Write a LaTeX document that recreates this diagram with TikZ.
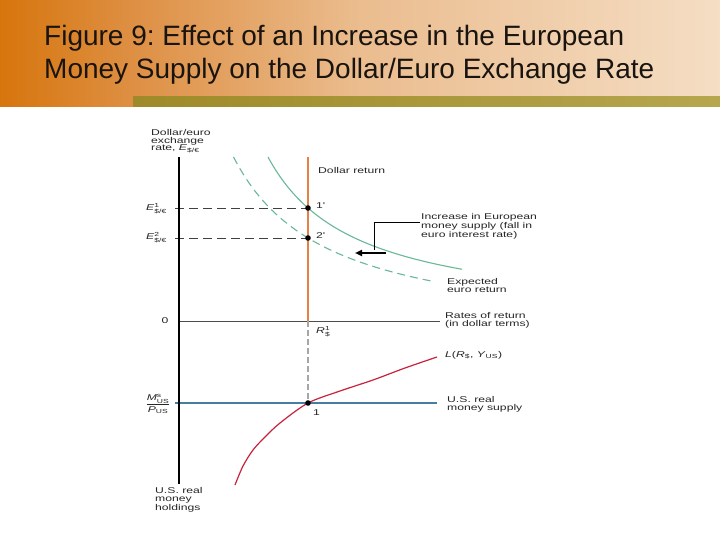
\documentclass[tikz,border=0pt]{standalone}
\usepackage{fontspec}
\usepackage{amsmath}
\setmainfont{Liberation Sans}
\newfontfamily\lbl[FakeStretch=1.45]{Liberation Sans}
\usetikzlibrary{arrows.meta}
\frenchspacing
\definecolor{olL}{RGB}{158,138,40}
\definecolor{olR}{RGB}{182,166,78}
\definecolor{grn}{RGB}{105,185,150}
\definecolor{orl}{RGB}{232,128,70}
\definecolor{blu}{RGB}{70,125,160}
\definecolor{rdc}{RGB}{200,35,60}
\definecolor{ttl}{RGB}{25,20,15}
\pgfdeclarehorizontalshading{hdr}{100bp}{rgb(0bp)=(0.84,0.46,0.05); rgb(25bp)=(0.84,0.46,0.05); rgb(34bp)=(0.87,0.56,0.26); rgb(50bp)=(0.92,0.74,0.56); rgb(75bp)=(0.96,0.87,0.77); rgb(100bp)=(0.96,0.87,0.77)}
\tikzset{
  lab/.style={font=\lbl\fontsize{8.4}{7.8}\selectfont, text=black!85, inner sep=0pt, align=left},
  ttxt/.style={font=\fontsize{28}{33}\selectfont, text=ttl, inner sep=0pt, anchor=base west},
  dot/.style={fill=black, draw=none},
  hdash/.style={draw=black!75, line width=0.8pt, dash pattern=on 9pt off 5pt},
}
\begin{document}
\begin{tikzpicture}[x=1pt,y=-1pt]
\useasboundingbox (0,0) rectangle (720,540);
\fill[white] (0,0) rectangle (720,540);
% header
\shade[shading=hdr] (0,0) rectangle (720,107);
\shade[left color=olL, right color=olR] (133,97) rectangle (720,107);
\node[ttxt] (t1) at (44,46) {Figure 9: Effect of an Increase in the European};
\node[ttxt] (t2) at (44,79) {Money Supply on the Dollar/Euro Exchange Rate};
% coordinates
\coordinate (axTop) at (179,157);
\coordinate (axBot) at (179,484);
\coordinate (z0) at (179,321);
\coordinate (zE) at (440,321);
\coordinate (orTop) at (308,157);
\coordinate (orBot) at (308,321);
\coordinate (p1) at (308,403);
\coordinate (pa) at (308,208);
\coordinate (pb) at (308,238);
\coordinate (ta) at (175,208);
\coordinate (tb) at (175,238);
\coordinate (tm) at (175,403);
\coordinate (mE) at (437,403);
\coordinate (ld0) at (420,222);
\coordinate (ld1) at (374,222);
\coordinate (ld2) at (374,250);
\coordinate (arS) at (386,253);
\coordinate (arE) at (355,253);
% curves
\draw[grn, line width=1.1pt] plot[domain=268:462, samples=80] (\x, {320.2-143.62*(100/(\x-180))});
\draw[grn, line width=1.1pt, dash pattern=on 8pt off 5pt] plot[domain=233.5:435, samples=80] (\x, {339.7-170.89*(100/(\x-140))});
\draw[rdc, line width=1.2pt] plot[smooth] coordinates {(235,485) (243,466) (253,450) (265,437) (280,423) (308,403) (340,391) (373,380) (405,368) (437,357)};
% lines
\draw[hdash] (ta) -- (pa);
\draw[hdash] (tb) -- (pb);
\draw[black!70, line width=0.9pt] (z0) -- (zE);
\draw[blu, line width=1.1pt] (tm) -- (mE);
\draw[orl, line width=1.8pt] (orTop) -- (orBot);
\draw[black!35, line width=1.5pt, dash pattern=on 6pt off 3pt] (orBot) -- (p1);
\draw[black, line width=2.2pt] (axTop) -- (axBot);
\fill[dot] (pa) circle (2.8);
\fill[dot] (pb) circle (2.8);
\fill[dot] (p1) circle (2.8);
% annotation
\draw[black, line width=0.7pt] (ld0) -- (ld1) -- (ld2);
\draw[black, line width=1.8pt, -{Triangle[length=7pt,width=6pt]}] (arS) -- (arE);
% labels
\node[lab, anchor=north west] (ylab) at (151,129) {Dollar/euro\\exchange\\rate, \textit{E}$_{\text{\$/€}}$};
\node[lab, anchor=north west] (xlab) at (155,487.5) {U.S. real\\money\\holdings};
\node[lab, anchor=west] (e1) at (146,209) {\textit{E}$^{\text{1}}_{\text{\$/€}}$};
\node[lab, anchor=west] (e2) at (146,238) {\textit{E}$^{\text{2}}_{\text{\$/€}}$};
\node[lab] (zl) at (165,321) {0};
\node[lab] (ml) at (158,404) {$\dfrac{\text{\textit{M}}^{\text{s}}_{\text{US}}}{\text{\textit{P}}_{\text{US}}}$};
\node[lab, anchor=west] (dr) at (318,170) {Dollar return};
\node[lab, anchor=west] (l1p) at (316,206) {1'};
\node[lab, anchor=west] (l2p) at (316,236) {2'};
\node[lab, anchor=north west] (inc) at (421,213.5) {Increase in European\\money supply (fall in\\euro interest rate)};
\node[lab, anchor=north west] (exr) at (447,278.5) {Expected\\euro return};
\node[lab, anchor=north west] (ror) at (445,312.5) {Rates of return\\(in dollar terms)};
\node[lab, anchor=west] (rl) at (316,332) {\textit{R}$^{\text{1}}_{\text{\$}}$};
\node[lab, anchor=west] (ll) at (445,355) {\textit{L}(\textit{R}$_{\text{\$}}$, \textit{Y}$_{\text{US}}$)};
\node[lab, anchor=north west] (ms) at (447,396.5) {U.S. real\\money supply};
\node[lab, anchor=west] (one) at (313,413) {1};
\end{tikzpicture}
\end{document}
